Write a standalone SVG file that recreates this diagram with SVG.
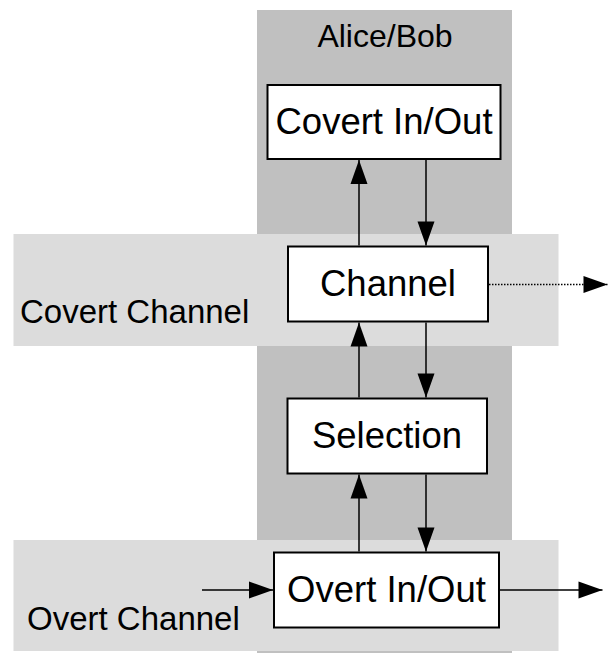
<svg xmlns="http://www.w3.org/2000/svg" width="613" height="653" viewBox="0 0 613 653">
  <style>
    .lane-party { fill: #c0c0c0; }
    .lane-channel { fill: #dcdcdc; }
    .box { fill: #ffffff; stroke: #000000; stroke-width: 2; }
    .label { font-family: "Liberation Sans", Arial, sans-serif; fill: #000000; }
    .box-label { font-size: 36.5px; text-anchor: middle; }
    .lane-label { font-size: 33px; }
    .edge { stroke: #000000; stroke-width: 1.5; fill: none; marker-end: url(#arrow); }
    .edge-dotted { stroke-dasharray: 1.5 1.5; }
  </style>
  <defs>
    <marker id="arrow" markerUnits="userSpaceOnUse" markerWidth="26" markerHeight="19" refX="24" refY="8.5" orient="auto" overflow="visible">
      <path d="M0,0 L24,8.5 L0,17 Z" fill="#000000"/>
    </marker>
  </defs>

  <!-- background lanes -->
  <g id="lane-alice-bob">
    <rect class="lane-party" x="257" y="10" width="255" height="643"/>
    <text class="label" x="385" y="47" font-size="32" text-anchor="middle">Alice/Bob</text>
  </g>
  <g id="lane-covert-channel">
    <rect class="lane-channel" x="13.5" y="234" width="545" height="112"/>
    <text class="label lane-label" x="20" y="323">Covert Channel</text>
  </g>
  <g id="lane-overt-channel">
    <rect class="lane-channel" x="13.5" y="540" width="545" height="111"/>
    <text class="label lane-label" x="27" y="630">Overt Channel</text>
  </g>

  <!-- nodes -->
  <g id="covert-in-out">
    <rect class="box" x="267.5" y="85" width="233" height="74"/>
    <text class="label box-label" x="384" y="134">Covert In/Out</text>
  </g>
  <g id="channel">
    <rect class="box" x="288" y="246.5" width="200" height="75"/>
    <text class="label box-label" x="388" y="296">Channel</text>
  </g>
  <g id="selection">
    <rect class="box" x="287.5" y="398.5" width="199.5" height="75"/>
    <text class="label box-label" x="387" y="447.5">Selection</text>
  </g>
  <g id="overt-in-out">
    <rect class="box" x="274" y="552.5" width="225" height="75"/>
    <text class="label box-label" x="386.5" y="602">Overt In/Out</text>
  </g>

  <!-- connectors -->
  <g id="connectors">
    <line class="edge" x1="359" y1="245.5" x2="359" y2="160"/>
    <line class="edge" x1="426" y1="160" x2="426" y2="245.5"/>
    <line class="edge" x1="359" y1="397.5" x2="359" y2="322.5"/>
    <line class="edge" x1="426" y1="322.5" x2="426" y2="397.5"/>
    <line class="edge" x1="359" y1="551.5" x2="359" y2="474.5"/>
    <line class="edge" x1="426" y1="474.5" x2="426" y2="551.5"/>
    <line class="edge edge-dotted" x1="489" y1="284.5" x2="607.5" y2="284.5"/>
    <line class="edge" x1="202" y1="590" x2="273" y2="590"/>
    <line class="edge" x1="500" y1="590" x2="602.5" y2="590"/>
  </g>
</svg>
